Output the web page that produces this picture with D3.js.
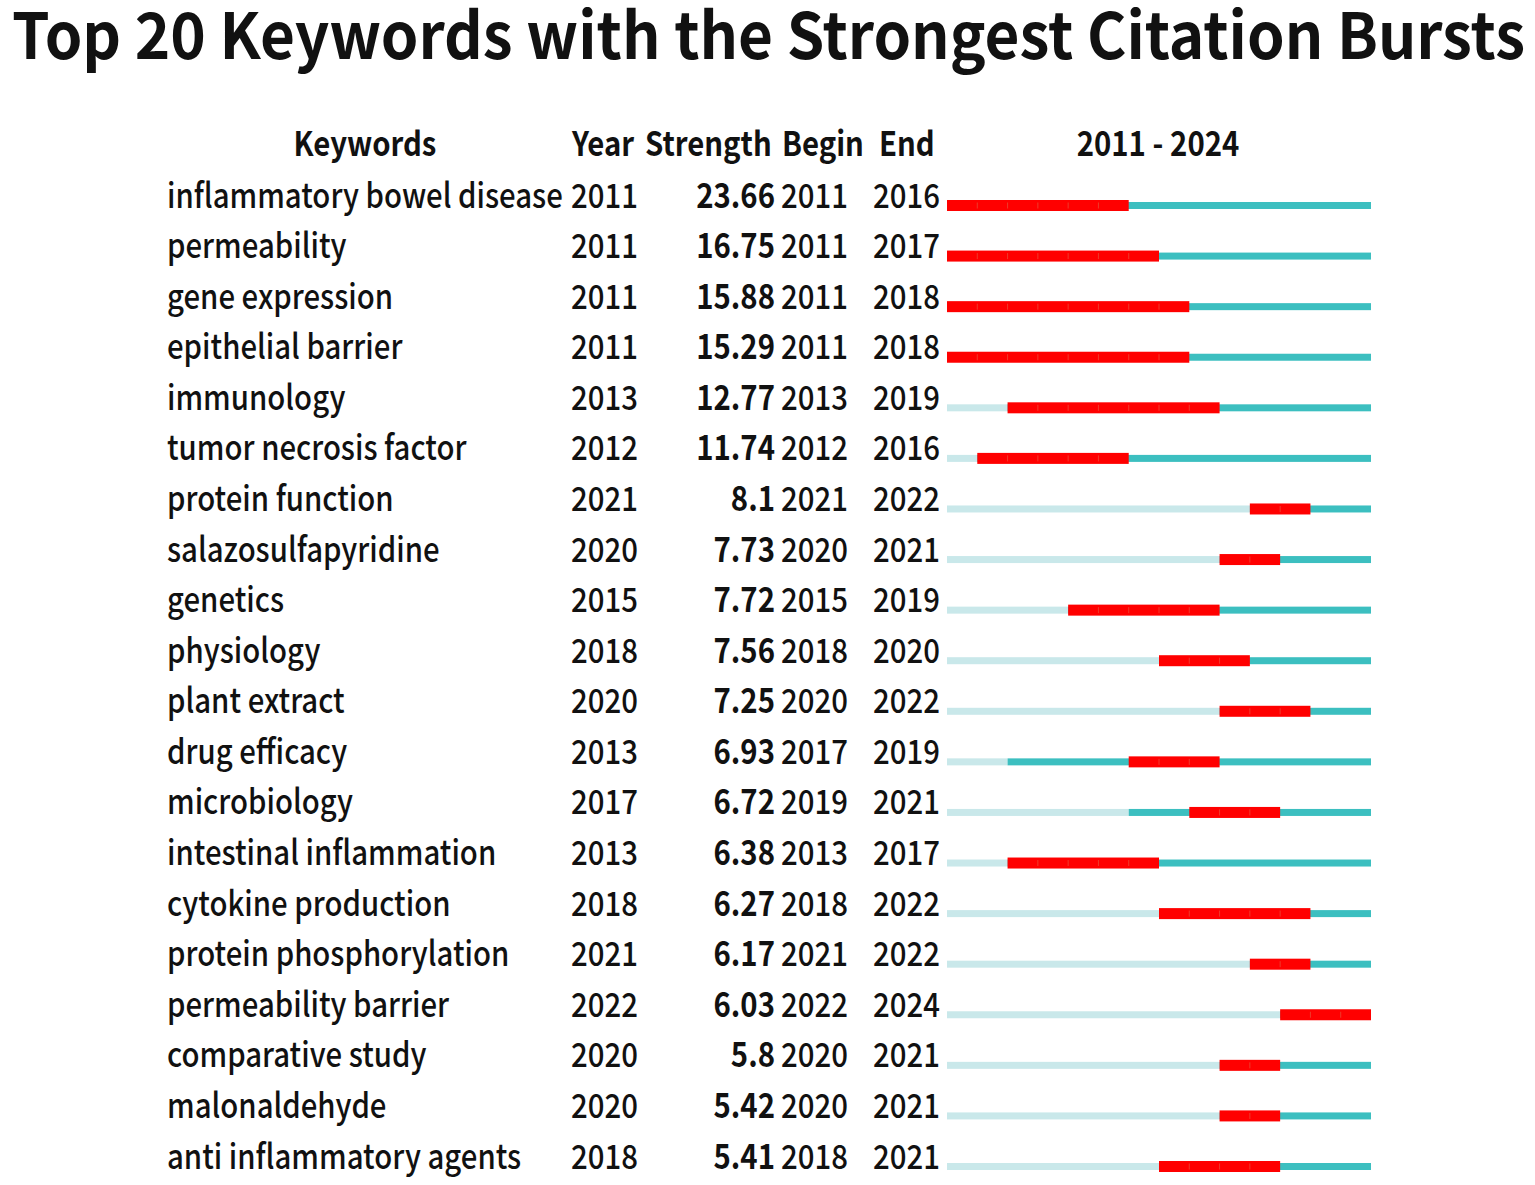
<!DOCTYPE html>
<html><head><meta charset="utf-8">
<script src="https://cdn.jsdelivr.net/npm/d3@7"></script>
<style>
html,body{margin:0;padding:0;background:#fff;}
text{font-family:"Noto Sans CJK SC","Noto Sans",sans-serif;fill:#111;}
</style></head>
<body>
<svg id="chart" width="1535" height="1185"></svg>
<script>
const keywords = ["inflammatory bowel disease","permeability","gene expression","epithelial barrier","immunology","tumor necrosis factor","protein function","salazosulfapyridine","genetics","physiology","plant extract","drug efficacy","microbiology","intestinal inflammation","cytokine production","protein phosphorylation","permeability barrier","comparative study","malonaldehyde","anti inflammatory agents"];
const years = [2011,2011,2011,2011,2013,2012,2021,2020,2015,2018,2020,2013,2017,2013,2018,2021,2022,2020,2020,2018];
const strengths = ["23.66","16.75","15.88","15.29","12.77","11.74","8.1","7.73","7.72","7.56","7.25","6.93","6.72","6.38","6.27","6.17","6.03","5.8","5.42","5.41"];
const begins = [2011,2011,2011,2011,2013,2012,2021,2020,2015,2018,2020,2017,2019,2013,2018,2021,2022,2020,2020,2018];
const ends = [2016,2017,2018,2018,2019,2016,2022,2021,2019,2020,2022,2019,2021,2017,2022,2022,2024,2021,2021,2021];
const headers = ["Keywords","Year","Strength","Begin","End","2011 - 2024"];
const titleText = "Top 20 Keywords with the Strongest Citation Bursts";
const startYear = 2011, endYear = 2024;

const svg = d3.select("#chart");
const RED = "#ff0000", TEAL = "#3cbfc0", LIGHT = "#c9e8ea";

const x = d3.scaleLinear().domain([startYear, endYear + 1]).range([947, 1371]);
const rowY = d3.scaleLinear().domain([0, keywords.length - 1]).range([205.5, 1166.5]);

// Title
svg.append("text").attr("x", 12).attr("y", 59)
  .attr("font-size", 64).attr("font-weight", 700).text(titleText)
  .attr("textLength", 1513).attr("lengthAdjust", "spacingAndGlyphs");

const W = 500;
const probe = svg.append("text").attr("font-size", 34).attr("font-weight", W).text(keywords[0]);
const sx = 396 / probe.node().getComputedTextLength();
probe.remove();

function placeText(g, str, x0, y0, size, weight, anchor) {
  return g.append("text").attr("font-size", size).attr("font-weight", weight)
    .attr("text-anchor", anchor).text(str)
    .attr("transform", `translate(${x0},${y0}) scale(${sx},1)`);
}

const hg = svg.append("g");
placeText(hg, headers[0], 365, 156, 34, 700, "middle");
placeText(hg, headers[1], 572, 156, 34, 700, "start");
placeText(hg, headers[2], 645, 156, 34, 700, "start");
placeText(hg, headers[3], 782, 156, 34, 700, "start");
placeText(hg, headers[4], 879, 156, 34, 700, "start");
placeText(hg, headers[5], 1158, 156, 34, 700, "middle");

const rows = svg.append("g");
keywords.forEach((k, i) => {
  const yb = rowY(i) + 2;
  placeText(rows, k, 167, yb, 34, W, "start");
  placeText(rows, String(years[i]), 571, yb, 34, W, "start");
  placeText(rows, strengths[i], 775, yb, 34, 700, "end");
  placeText(rows, String(begins[i]), 781, yb, 34, W, "start");
  placeText(rows, String(ends[i]), 873, yb, 34, W, "start");

  const cy = rowY(i);
  if (years[i] > startYear) {
    rows.append("rect").attr("x", x(startYear)).attr("width", x(years[i]) - x(startYear))
      .attr("y", cy - 3.5).attr("height", 7).attr("fill", LIGHT);
  }
  rows.append("rect").attr("x", x(years[i])).attr("width", x(endYear + 1) - x(years[i]))
    .attr("y", cy - 3.5).attr("height", 7).attr("fill", TEAL);
  rows.append("rect").attr("x", x(begins[i])).attr("width", x(ends[i] + 1) - x(begins[i]))
    .attr("y", cy - 5.5).attr("height", 11).attr("fill", RED);
  for (let yr = begins[i] + 1; yr <= ends[i]; yr++) {
    rows.append("line").attr("x1", x(yr)).attr("x2", x(yr))
      .attr("y1", cy - 3).attr("y2", cy + 3).attr("stroke", "#ee3a2a").attr("stroke-width", 1);
  }
});
</script>
</body></html>
